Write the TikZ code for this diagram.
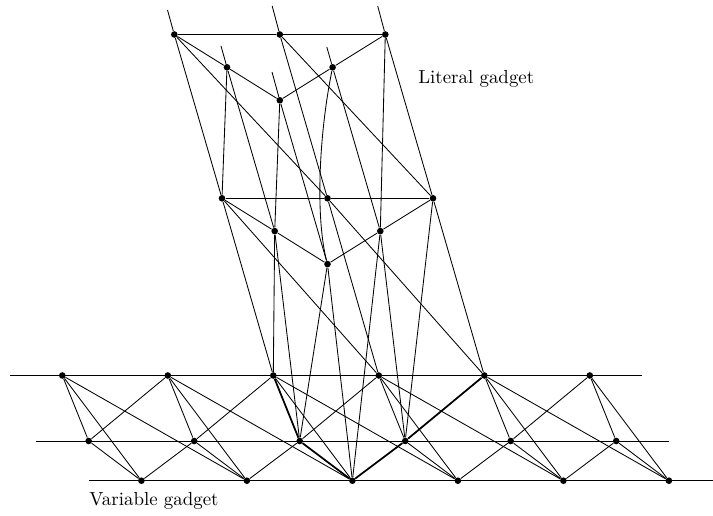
\documentclass[tikz,border=0pt]{standalone}
\begin{document}
\begin{tikzpicture}[x=0.5291pt,y=-0.5291pt,
  vtx/.style={circle,fill=black,inner sep=0pt,minimum size=3.5pt},
  edge/.style={line width=0.45pt},
  boldedge/.style={line width=0.9pt},
  lbl/.style={inner sep=0pt,anchor=base west}]
\useasboundingbox (0,0) rectangle (713,515);
% variable gadget vertices
\foreach \i in {1,...,6}{
  \node[vtx] (a\i) at ({62.3+105.5*(\i-1)},375.5) {};
  \node[vtx] (b\i) at ({88.7+105.5*(\i-1)},441) {};
  \node[vtx] (c\i) at ({141.4+105.5*(\i-1)},480.7) {};
}
% literal gadget: top copy
\node[vtx] (T1) at (174.3,34.5) {};
\node[vtx] (T2) at (279.8,34.5) {};
\node[vtx] (T3) at (385.3,34.5) {};
\node[vtx] (U1) at (227.0,67.3) {};
\node[vtx] (U2) at (332.6,67.3) {};
\node[vtx] (V)  at (279.8,100.3) {};
% middle copy
\node[vtx] (M1) at (222.0,198.3) {};
\node[vtx] (M2) at (327.5,198.3) {};
\node[vtx] (M3) at (433.0,198.3) {};
\node[vtx] (N1) at (274.7,231.1) {};
\node[vtx] (N2) at (380.3,231.1) {};
\node[vtx] (W)  at (327.5,264.1) {};
% stub ends
\coordinate (sT1) at (167.5,10);
\coordinate (sT2) at (272.2,6);
\coordinate (sT3) at (377.7,6);
\coordinate (sU1) at (221.0,46);
\coordinate (sU2) at (326.8,47);
\coordinate (sV)  at (272.0,72);
% row line ends
\coordinate (r1s) at (10,375.5);   \coordinate (r1e) at (642,375.5);
\coordinate (r2s) at (36,441);     \coordinate (r2e) at (668.5,441);
\coordinate (r3s) at (89,480.7);   \coordinate (r3e) at (713,480.7);
% labels
\node[lbl] (lit) at (418,83) {Literal gadget};
\node[lbl] (var) at (89,505) {Variable gadget};

\begin{scope}[edge]
% rows
\draw (r1s) -- (r1e);
\draw (r2s) -- (r2e);
\draw (r3s) -- (r3e);
% variable gadget edges
\foreach \i in {1,...,6}{
  \draw (a\i) -- (b\i);
  \draw (a\i) -- (c\i);
  \draw (b\i) -- (c\i);
}
\foreach \i/\j in {1/2,2/3,3/4,4/5,5/6}{
  \draw (a\i) -- (c\j);
  \draw (b\i) -- (a\j);
  \draw (c\i) -- (b\j);
}
% top copy
\draw (T1) -- (T2) -- (T3);
\draw (T1) -- (U1) -- (V) -- (U2) -- (T3);
% middle copy
\draw (M1) -- (M2) -- (M3);
\draw (M1) -- (N1) -- (W) -- (N2) -- (M3);
% stubs
\draw (sT1) -- (T1);
\draw (sT2) -- (T2);
\draw (sT3) -- (T3);
\draw (sU1) -- (U1);
\draw (sU2) -- (U2);
\draw (sV) -- (V);
% top -> middle
\draw (T1) -- (M1);
\draw (T1) -- (M2);
\draw (T2) -- (M2);
\draw (T2) -- (M3);
\draw (T3) -- (M3);
\draw (T3) -- (N2);
\draw (U1) -- (N1);
\draw (U1) -- (M1);
\draw (U2) -- (N2);
\draw (U2) .. controls (318,140) and (316,220) .. (W);
\draw (V) -- (W);
\draw (V) -- (N1);
% middle -> bottom
\draw (M1) -- (a3);
\draw (M1) -- (a4);
\draw (M2) -- (a4);
\draw (M2) -- (a5);
\draw (M3) -- (a5);
\draw (M3) -- (b4);
\draw (N1) -- (b3);
\draw (N1) -- (a3);
\draw (N2) -- (b4);
\draw (N2) -- (c3);
\draw (W) -- (c3);
\draw (W) -- (b3);
\end{scope}
% bold cycle
\draw[boldedge] (a3) -- (a4) -- (a5);
\draw[boldedge] (a3) -- (b3) -- (c3) -- (b4) -- (a5);
\end{tikzpicture}
\end{document}
